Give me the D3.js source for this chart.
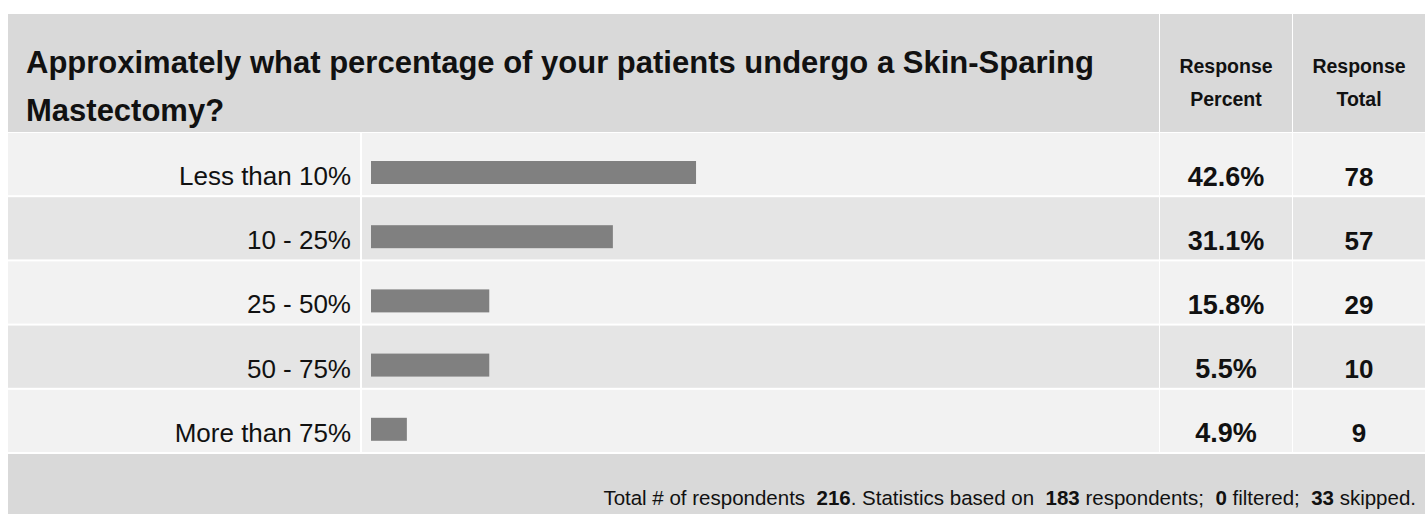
<!DOCTYPE html>
<html>
<head>
<meta charset="utf-8">
<script src="https://cdn.jsdelivr.net/npm/d3@7"></script>
<style>
  body { margin: 0; background: #fff; }
  svg text { font-family: "Liberation Sans", Arial, Helvetica, sans-serif; fill: #111; }
</style>
</head>
<body>
<div id="chart_div"></div>
<script>
// values
var question = ['Approximately what percentage of your patients undergo a Skin-Sparing', 'Mastectomy?'];
var categories = ['Less than 10%', '10 - 25%', '25 - 50%', '50 - 75%', 'More than 75%'];
var responsePercent = [42.6, 31.1, 15.8, 5.5, 4.9];
var responseTotal = [78, 57, 29, 10, 9];
// bar lengths as they are drawn (the 50 - 75% bar is drawn as long as the 25 - 50% one)
var barLength = [42.6, 31.7, 15.5, 15.5, 4.7];
var columnTitles = [['Response', 'Percent'], ['Response', 'Total']];
var footerStats = [216, 183, 0, 33];

function makeTable() {
  var W = 1428, H = 514;
  var left = 8, right = 1425;
  var labelEnd = 360, barStart = 362, valueStart = 1160, totalStart = 1293;

  var svg = d3.select('#chart_div').append('svg')
      .attr('width', W)
      .attr('height', H);

  svg.append('rect').attr('width', W).attr('height', H).attr('fill', '#fff');

  // header
  svg.append('rect')
    .attr('x', left).attr('y', 14)
    .attr('width', valueStart - 1 - left).attr('height', 118)
    .attr('fill', '#d9d9d9');
  svg.append('rect')
    .attr('x', valueStart).attr('y', 14)
    .attr('width', totalStart - 1 - valueStart).attr('height', 118)
    .attr('fill', '#d9d9d9');
  svg.append('rect')
    .attr('x', totalStart).attr('y', 14)
    .attr('width', right - totalStart).attr('height', 118)
    .attr('fill', '#d9d9d9');

  svg.append('g')
    .selectAll('text')
    .data(question)
    .enter()
    .append('text')
    .attr('x', 26)
    .attr('y', function (d, i) { return 73 + i * 48; })
    .style('font-size', '31px')
    .style('font-weight', 'bold')
    .text(function (d) { return d; });

  var colCenters = [(valueStart + totalStart - 1) / 2, (totalStart + right) / 2];
  columnTitles.forEach(function (lines, c) {
    svg.append('g')
      .selectAll('text')
      .data(lines)
      .enter()
      .append('text')
      .attr('x', colCenters[c])
      .attr('y', function (d, i) { return 73 + i * 33; })
      .attr('text-anchor', 'middle')
      .style('font-size', '19.5px')
      .style('font-weight', 'bold')
      .text(function (d) { return d; });
  });

  // rows
  var yScale = d3.scaleBand()
      .domain(categories)
      .range([133, 452])
      .paddingInner(0.031)
      .paddingOuter(0);

  var xScale = d3.scaleLinear()
      .domain([0, 100])
      .range([371, 1134]);

  var rows = svg.selectAll('g.row')
      .data(categories)
      .enter()
      .append('g')
      .attr('class', 'row')
      .attr('transform', function (d) { return `translate(0, ${yScale(d)})`; });

  var bh = yScale.bandwidth();
  var cells = [[left, labelEnd], [barStart, valueStart - 1], [valueStart, totalStart - 1], [totalStart, right]];
  cells.forEach(function (c) {
    rows.append('rect')
      .attr('x', c[0])
      .attr('width', c[1] - c[0])
      .attr('height', bh)
      .attr('fill', function (d, i) { return i % 2 == 0 ? '#f2f2f2' : '#e5e5e5'; });
  });

  rows.append('text')
    .attr('x', 351)
    .attr('y', 52)
    .attr('text-anchor', 'end')
    .style('font-size', '26px')
    .text(function (d) { return d; });

  rows.append('rect')
    .attr('x', xScale(0))
    .attr('y', 28)
    .attr('height', 23)
    .attr('width', function (d, i) { return xScale(barLength[i]) - xScale(0); })
    .attr('fill', '#808080');

  rows.append('text')
    .attr('x', colCenters[0])
    .attr('y', 52.5)
    .attr('text-anchor', 'middle')
    .style('font-size', '27px')
    .style('font-weight', 'bold')
    .text(function (d, i) { return responsePercent[i].toFixed(1) + '%'; });

  rows.append('text')
    .attr('x', colCenters[1])
    .attr('y', 52.5)
    .attr('text-anchor', 'middle')
    .style('font-size', '26px')
    .style('font-weight', 'bold')
    .text(function (d, i) { return responseTotal[i]; });

  // footer
  svg.append('rect')
    .attr('x', left).attr('y', 454)
    .attr('width', right - left).attr('height', H - 454)
    .attr('fill', '#d9d9d9');

  var parts = [
    ['Total # of respondents  ', false], [footerStats[0], true],
    ['. Statistics based on  ', false], [footerStats[1], true],
    [' respondents;  ', false], [footerStats[2], true],
    [' filtered;  ', false], [footerStats[3], true],
    [' skipped.', false]
  ];
  svg.append('text')
    .attr('x', 1416)
    .attr('y', 505)
    .attr('text-anchor', 'end')
    .style('font-size', '20.5px')
    .style('white-space', 'pre')
    .selectAll('tspan')
    .data(parts)
    .enter()
    .append('tspan')
    .style('font-weight', function (d) { return d[1] ? 'bold' : 'normal'; })
    .text(function (d) { return d[0]; });
}

makeTable();
</script>
</body>
</html>
